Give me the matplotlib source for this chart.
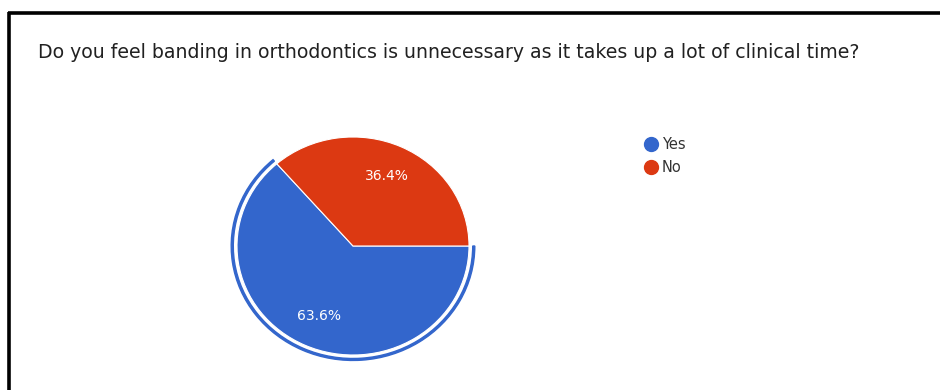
import matplotlib.pyplot as plt
from matplotlib.patches import Wedge
from matplotlib.lines import Line2D

plt.rcParams['font.family'] = ['Roboto', 'DejaVu Sans']

# Survey answers
question = "Do you feel banding in orthodontics is unnecessary as it takes up a lot of clinical time?"
labels = ["Yes", "No"]
shares = [63.6, 36.4]
colors = ["#3366CC", "#DC3912"]

W, H = 940, 390
fig = plt.figure(figsize=(W / 100, H / 100), dpi=100)

# Background axes in pixel units for the frame and title
bg = fig.add_axes([0, 0, 1, 1])
bg.set_xlim(0, W)
bg.set_ylim(H, 0)
bg.axis('off')
bg.plot([9, 9], [11.5, H + 5], color='black', lw=2.6, solid_capstyle='butt')
bg.plot([7.7, W + 5], [12.5, 12.5], color='black', lw=2.6, solid_capstyle='butt')
title = bg.text(38, 52, question, fontsize=12, color='#212121', va='center', ha='left',
                family=['DejaVu Sans'])

# Fit the title to its box width
fig.canvas.draw()
tw = title.get_window_extent().width
title.set_fontsize(12 * 817 / tw)

# Pie axes (slightly wider than tall)
cx, cy, rx, ry = 353, 246, 116, 109
ax = fig.add_axes([(cx - rx) / W, 1 - (cy + ry) / H, 2 * rx / W, 2 * ry / H])
start = 360 - shares[0] / 100 * 360
wedges, texts, autotexts = ax.pie(
    shares, colors=colors, startangle=start, counterclock=True,
    autopct='%.1f%%', pctdistance=0.71, radius=1,
    wedgeprops=dict(edgecolor='white', linewidth=0.8),
    textprops=dict(color='white', fontsize=10, family=['DejaVu Sans']))
ax.set_aspect('auto')
ax.set_xlim(-1, 1)
ax.set_ylim(-1, 1)
ax.axis('off')

# Highlight ring around the selected slice
ring = Wedge((0, 0), 1.05, start, 360, width=0.018, color=colors[0], clip_on=False)
ax.add_patch(ring)

# Legend
handles = [Line2D([], [], marker='o', ls='', markersize=10, color=c) for c in colors]
fig.legend(handles, labels, loc='upper left', bbox_to_anchor=(635 / W, 1 - 130 / H),
           frameon=False, handletextpad=0.15, labelspacing=0.55,
           borderpad=0, handlelength=1.2, labelcolor='#333333',
           prop=dict(family=['DejaVu Sans'], size=10.5))

fig.savefig('out.png', dpi=100)
